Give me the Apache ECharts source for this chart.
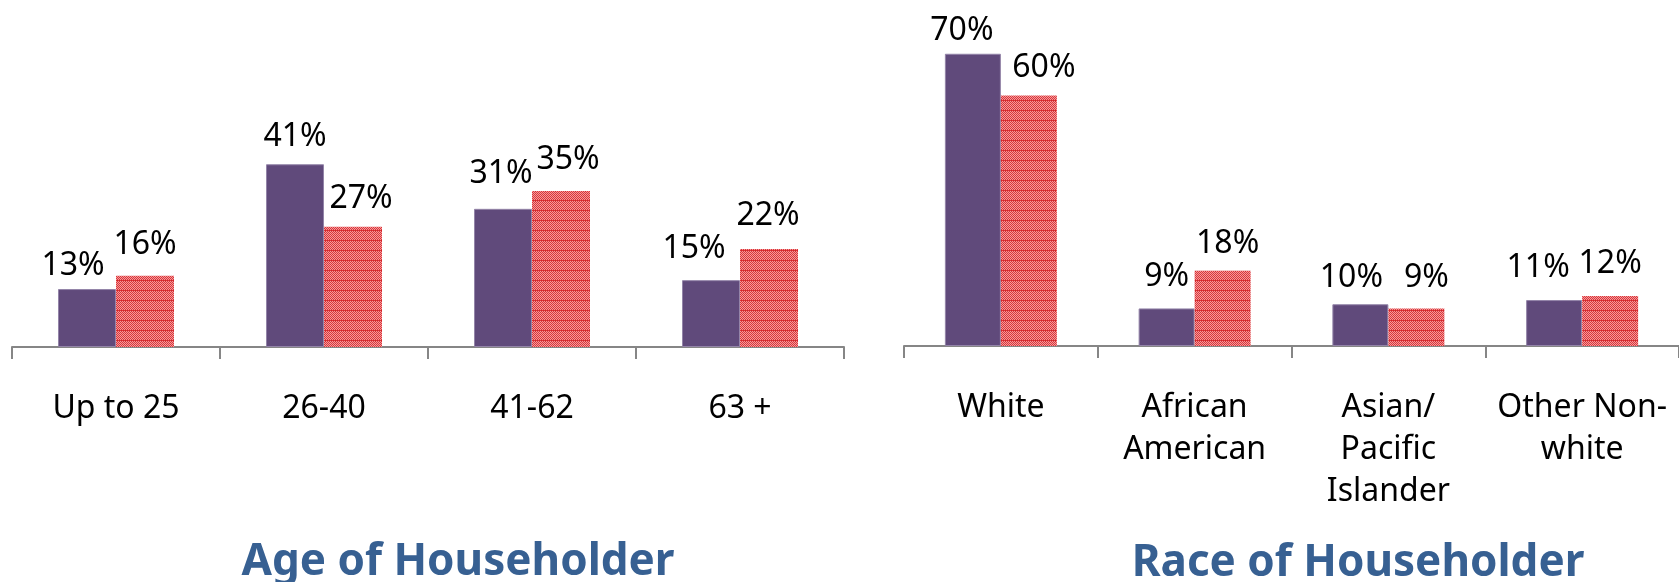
<!DOCTYPE html>
<html>
<head>
<meta charset="utf-8">
<script src="https://cdn.jsdelivr.net/npm/echarts@6/dist/echarts.min.js"></script>
<style>
html,body{margin:0;padding:0;background:#fff;}
#chart{width:1679px;height:582px;}
</style>
</head>
<body>
<div id="chart"></div>
<script>
// ---- data ----
var ageCategories = ['Up to 25', '26-40', '41-62', '63 +'];
var ageGroupA = [13, 41, 31, 15];
var ageGroupB = [16, 27, 35, 22];

var raceCategories = ['White', 'African\nAmerican', 'Asian/\nPacific\nIslander', 'Other Non-\nwhite'];
var raceGroupA = [70, 9, 10, 11];
var raceGroupB = [60, 18, 9, 12];

var ageTitle = 'Age of Householder';
var raceTitle = 'Race of Householder';

// ---- label nudges (style, not data) ----
var ageNudgeA = [[-14, 8], [0, 4], [-2, -4], [-17, 0]];
var ageNudgeB = [[0, 0], [8, 3], [7, 0], [-1, -2]];
var raceNudgeA = [[-11, 8], [0, -1], [-9, 5], [-16, -1]];
var raceNudgeB = [[15, 3], [5, 4], [10, 0], [0, -1]];

// ---- red dotted pattern ----
function makePattern() {
  var c = document.createElement('canvas');
  c.width = 10; c.height = 10;
  var g = c.getContext('2d');
  for (var y = 0; y < 10; y++) {
    for (var x = 0; x < 10; x++) {
      g.fillStyle = ((x + y) % 2 === 0) ? '#DE3438' : '#F09C9E';
      g.fillRect(x, y, 1, 1);
    }
  }
  g.fillStyle = '#D0262A';
  for (var x2 = 1; x2 < 10; x2 += 2) g.fillRect(x2, 0, 1, 1);
  g.fillRect(5, 1, 1, 1);
  return c;
}
var redFill = { image: makePattern(), repeat: 'repeat' };
var purple = '#604A7B';

var FONT = '"Noto Sans", "Open Sans", sans-serif';

function withNudges(values, nudges) {
  return values.map(function (v, i) {
    return { value: v, label: { offset: nudges[i] } };
  });
}

var labelStyle = {
  show: true,
  position: 'top',
  distance: 15,
  formatter: '{c}%',
  color: '#000',
  fontFamily: FONT,
  fontSize: 32
};

function xAxisFor(cats, gridIndex) {
  return {
    type: 'category',
    gridIndex: gridIndex,
    data: cats,
    axisLine: { lineStyle: { color: '#868686', width: 2 } },
    axisTick: { show: true, length: 12, lineStyle: { color: '#868686', width: 2 } },
    axisLabel: {
      interval: 0,
      color: '#000',
      fontFamily: FONT,
      fontSize: 32,
      lineHeight: 42,
      margin: 41
    }
  };
}

var option = {
  backgroundColor: '#fff',
  animation: false,
  grid: [
    { left: 12, top: 35, width: 832, height: 312 },
    { left: 904, top: 12, width: 787, height: 334 }
  ],
  xAxis: [xAxisFor(ageCategories, 0), xAxisFor(raceCategories, 1)],
  yAxis: [
    { type: 'value', gridIndex: 0, min: 0, max: 70, show: false, splitLine: { show: false } },
    { type: 'value', gridIndex: 1, min: 0, max: 80, show: false, splitLine: { show: false } }
  ],
  series: [
    {
      name: 'Group A', type: 'bar', xAxisIndex: 0, yAxisIndex: 0,
      barWidth: 58, barGap: '0%',
      itemStyle: { color: purple, borderColor: '#9384A8', borderWidth: 1 },
      label: labelStyle,
      data: withNudges(ageGroupA, ageNudgeA)
    },
    {
      name: 'Group B', type: 'bar', xAxisIndex: 0, yAxisIndex: 0,
      barWidth: 58, barGap: '0%',
      itemStyle: { color: redFill },
      label: labelStyle,
      data: withNudges(ageGroupB, ageNudgeB)
    },
    {
      name: 'Group A', type: 'bar', xAxisIndex: 1, yAxisIndex: 1,
      barWidth: 56, barGap: '0%',
      itemStyle: { color: purple, borderColor: '#9384A8', borderWidth: 1 },
      label: labelStyle,
      data: withNudges(raceGroupA, raceNudgeA)
    },
    {
      name: 'Group B', type: 'bar', xAxisIndex: 1, yAxisIndex: 1,
      barWidth: 56, barGap: '0%',
      itemStyle: { color: redFill },
      label: labelStyle,
      data: withNudges(raceGroupB, raceNudgeB)
    }
  ],
  graphic: [
    {
      type: 'text', x: 458, y: 562,
      style: { text: ageTitle, font: 'bold 44px ' + FONT, fill: '#376092', align: 'center', verticalAlign: 'middle' }
    },
    {
      type: 'text', x: 1358, y: 563,
      style: { text: raceTitle, font: 'bold 44px ' + FONT, fill: '#376092', align: 'center', verticalAlign: 'middle' }
    }
  ]
};

var chart = echarts.init(document.getElementById('chart'), null, { renderer: 'canvas' });
chart.setOption(option);
</script>
</body>
</html>
